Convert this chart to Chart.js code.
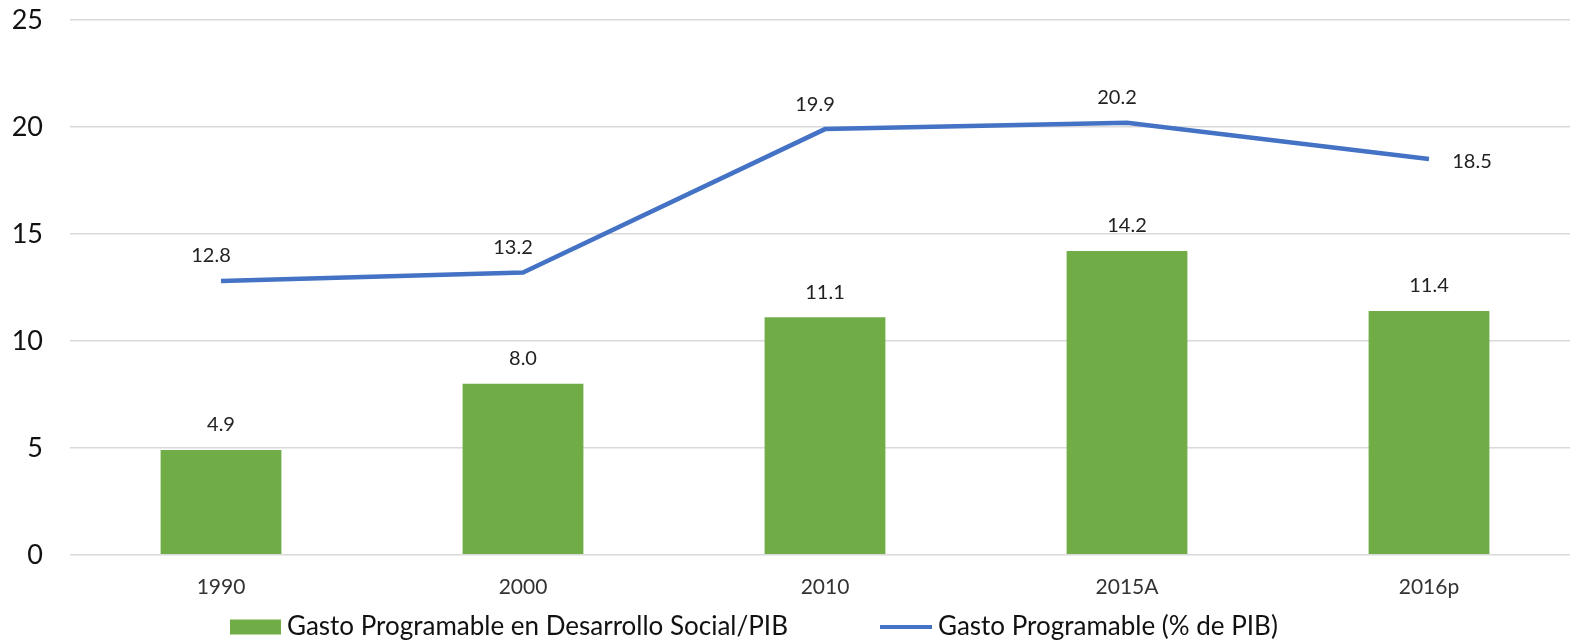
<!DOCTYPE html>
<html>
<head>
<meta charset="utf-8">
<script src="https://cdn.jsdelivr.net/npm/chart.js@4"></script>
<style>
  html, body { margin: 0; padding: 0; background: #fff; overflow: hidden; }
  #wrap { width: 1580px; height: 640px; }
</style>
</head>
<body>
<div id="wrap"><canvas id="combo-chart"></canvas></div>
<script>
const years = ['1990', '2000', '2010', '2015A', '2016p'];
const socialSpending = [4.9, 8.0, 11.1, 14.2, 11.4]; // Gasto Programable en Desarrollo Social/PIB
const programSpending = [12.8, 13.2, 19.9, 20.2, 18.5]; // Gasto Programable (% de PIB)
const yTicks = [0, 5, 10, 15, 20, 25];

const FONT = 'Lato, "Open Sans", sans-serif';
const GREEN = '#70AD47';
const BLUE = '#4472C4';

// value labels above bars / line points
const valueLabels = {
  id: 'valueLabels',
  afterDatasetsDraw(chart) {
    const ctx = chart.ctx;
    ctx.save();
    ctx.font = '20px ' + FONT;
    ctx.fillStyle = '#222';
    ctx.textBaseline = 'middle';
    ctx.textAlign = 'center';
    chart.data.datasets.forEach((ds, i) => {
      const meta = chart.getDatasetMeta(i);
      meta.data.forEach((el, j) => {
        const txt = ds.data[j].toFixed(1);
        if (ds.type === 'bar') {
          ctx.fillText(txt, el.x, el.y - 25);
        } else if (j === meta.data.length - 1) {
          ctx.fillText(txt, el.x + 43, el.y + 2);
        } else {
          ctx.fillText(txt, el.x - 10, el.y - 25);
        }
      });
    });
    ctx.restore();
  },
};

// legend drawn by hand, bar item then line item
const bottomLegend = {
  id: 'bottomLegend',
  afterDraw(chart) {
    const ctx = chart.ctx;
    const y = 627;
    ctx.save();
    ctx.font = '26px ' + FONT;
    ctx.textBaseline = 'middle';
    ctx.textAlign = 'left';
    const bar = chart.data.datasets[1];
    const line = chart.data.datasets[0];
    ctx.fillStyle = GREEN;
    ctx.fillRect(230, y - 7.5, 51, 15);
    ctx.fillStyle = '#111';
    ctx.fillText(bar.label, 287, y);
    ctx.strokeStyle = BLUE;
    ctx.lineWidth = 4;
    ctx.beginPath();
    ctx.moveTo(880, y);
    ctx.lineTo(932, y);
    ctx.stroke();
    ctx.fillText(line.label, 938, y);
    ctx.restore();
  },
};

const comboConfig = {
  data: {
    labels: years,
    datasets: [
      {
        type: 'line',
        label: 'Gasto Programable (% de PIB)',
        data: programSpending,
        borderColor: BLUE,
        borderWidth: 4.5,
        pointRadius: 0,
        tension: 0,
        order: 0,
      },
      {
        type: 'bar',
        label: 'Gasto Programable en Desarrollo Social/PIB',
        data: socialSpending,
        backgroundColor: GREEN,
        barPercentage: 0.4,
        categoryPercentage: 1,
        order: 1,
      },
    ],
  },
  options: {
    responsive: true,
    maintainAspectRatio: false,
    animation: false,
    layout: { padding: { top: 20, left: 0, right: 0, bottom: 28 } },
    plugins: {
      tooltip: { enabled: false },
      legend: { display: false },
    },
    scales: {
      x: {
        grid: { display: false },
        border: { display: false },
        ticks: { font: { family: FONT, size: 21 }, color: '#333', padding: 12 },
      },
      y: {
        min: 0,
        max: 25,
        afterBuildTicks(scale) {
          scale.ticks = yTicks.map(v => ({ value: v }));
        },
        afterFit(scale) {
          scale.width = 70;
        },
        grid: { color: '#d9d9d9', lineWidth: 1.5, drawTicks: true, tickLength: 27, tickColor: 'rgba(0,0,0,0)' },
        border: { display: false },
        ticks: { font: { family: FONT, size: 27 }, color: '#111', padding: 0 },
      },
    },
  },
  plugins: [valueLabels, bottomLegend],
};

const comboChart = document.querySelector('#combo-chart');
new Chart(comboChart, comboConfig);
</script>
</body>
</html>
